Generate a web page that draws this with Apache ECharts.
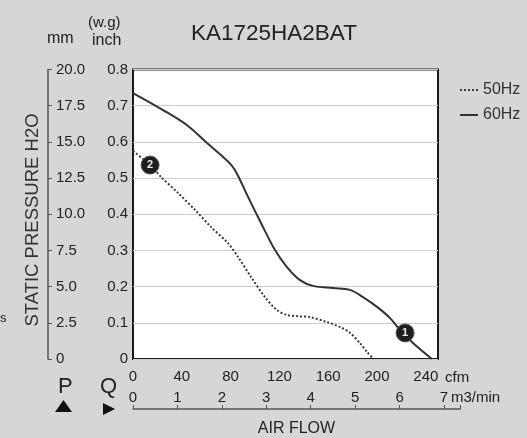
<!DOCTYPE html>
<html>
<head>
<meta charset="utf-8">
<script src="https://cdn.jsdelivr.net/npm/echarts@6/dist/echarts.min.js"></script>
<style>
html,body{margin:0;padding:0;background:#d8d8d8;}
#c{width:527px;height:438px;}
</style>
</head>
<body>
<div id="c"></div>
<script>
// ---- data ----
const titleText = 'KA1725HA2BAT';
const seriesNames = ['50Hz', '60Hz'];

const cfm50  = [0, 14, 23, 36.9, 50.8, 63.9, 77.9, 86.1, 96.7, 108.2, 118, 126, 136, 145, 159, 170, 178, 186, 192, 197];
const inch50 = [0.575, 0.536, 0.503, 0.459, 0.412, 0.365, 0.32, 0.282, 0.227, 0.171, 0.135, 0.122, 0.118, 0.116, 0.102, 0.088, 0.072, 0.044, 0.019, 0];

const cfm60  = [0, 24.6, 44.3, 60.7, 73, 79, 83, 87, 94.3, 104.9, 116.4, 126.2, 136.9, 147.5, 163.9, 177.9, 188.5, 200, 210.7, 218.9, 229.5, 245];
const inch60 = [0.735, 0.688, 0.646, 0.597, 0.561, 0.542, 0.525, 0.5, 0.448, 0.376, 0.301, 0.254, 0.218, 0.202, 0.196, 0.191, 0.171, 0.144, 0.113, 0.08, 0.044, 0];

// operating point markers: [cfm, inch, label]
const marker50 = [14, 0.536, '2'];
const marker60 = [223, 0.072, '1'];

const inchTicks = ['0', '0.1', '0.2', '0.3', '0.4', '0.5', '0.6', '0.7', '0.8'];
const mmTicks   = ['0', '2.5', '5.0', '7.5', '10.0', '12.5', '15.0', '17.5', '20.0'];
const cfmTicks  = ['0', '40', '80', '120', '160', '200', '240'];
const m3Ticks   = ['0', '1', '2', '3', '4', '5', '6', '7'];

// ---- chart ----
const FONT = '"Liberation Sans", Arial, sans-serif';
const TXT = '#222';
const chart = echarts.init(document.getElementById('c'), null, {renderer: 'canvas'});

function pairs(xs, ys) { return xs.map((x, i) => [x, ys[i]]); }
function markPointFor(m) {
  return {
    symbol: 'circle',
    symbolSize: 18,
    itemStyle: {color: '#1e1e1e', borderColor: '#555', borderWidth: 1},
    label: {show: true, formatter: m[2], color: '#eee', fontSize: 11, fontWeight: 'bold', fontFamily: FONT},
    data: [{coord: [m[0], m[1]]}]
  };
}

const option = {
  backgroundColor: '#d6d6d6',
  animation: false,
  textStyle: {fontFamily: FONT},
  title: {
    text: titleText, left: 186, top: 17,
    textStyle: {fontSize: 22.5, fontWeight: 'normal', color: TXT, fontFamily: FONT}
  },
  legend: {
    data: seriesNames, orient: 'vertical', left: 454, top: 77,
    itemWidth: 18, itemHeight: 14, itemGap: 9,
    itemStyle: {opacity: 0},
    textStyle: {fontSize: 16, color: '#333', fontFamily: FONT}
  },
  grid: [
    {left: 133, top: 69.5, right: 89, bottom: 79, show: true, backgroundColor: '#ffffff', borderColor: '#1a1a1a', borderWidth: 2},
    {left: 133, top: 380, width: 327, height: 32, show: false}
  ],
  xAxis: [
    {
      type: 'value', gridIndex: 0, min: 0, max: 250, interval: 40,
      axisLine: {show: false}, axisTick: {show: false}, splitLine: {show: false},
      axisLabel: {
        fontSize: 15, color: TXT, margin: 10, fontFamily: FONT,
        formatter: v => (v % 40 === 0 && v / 40 < cfmTicks.length) ? cfmTicks[v / 40] : ''
      }
    },
    {
      type: 'value', gridIndex: 1, position: 'bottom', min: 0, max: 7.36, interval: 1,
      name: 'AIR FLOW', nameLocation: 'middle', nameGap: 12,
      nameTextStyle: {fontSize: 16, color: TXT, fontFamily: FONT},
      axisLine: {show: true, lineStyle: {color: '#555', width: 1.5}},
      axisTick: {show: true, inside: true, length: 4, lineStyle: {color: '#555'}},
      splitLine: {show: false},
      axisLabel: {
        inside: true, fontSize: 15, color: TXT, margin: 4, fontFamily: FONT,
        formatter: v => (Number.isInteger(v) && v < m3Ticks.length) ? m3Ticks[v] : ''
      }
    }
  ],
  yAxis: [
    {
      type: 'value', gridIndex: 0, min: 0, max: 0.8, interval: 0.1,
      axisLine: {show: false}, axisTick: {show: false},
      splitLine: {show: true, lineStyle: {color: '#cdcdcd', width: 1}},
      axisLabel: {
        fontSize: 15, color: TXT, margin: 5, fontFamily: FONT,
        formatter: v => inchTicks[Math.round(v * 10)]
      }
    },
    {
      type: 'value', gridIndex: 0, position: 'left', offset: 85, min: 0, max: 20, interval: 2.5,
      axisLine: {show: true, lineStyle: {color: '#555', width: 1.5}},
      axisTick: {show: true, inside: true, length: 4, lineStyle: {color: '#555'}},
      splitLine: {show: false},
      axisLabel: {
        inside: true, fontSize: 15, color: TXT, margin: 8, fontFamily: FONT,
        formatter: v => mmTicks[Math.round(v / 2.5)]
      }
    },
    {type: 'value', gridIndex: 1, show: false}
  ],
  series: [
    {
      name: seriesNames[0], type: 'line', xAxisIndex: 0, yAxisIndex: 0,
      data: pairs(cfm50, inch50), smooth: 0.3, symbol: 'none',
      lineStyle: {color: '#3a3a3a', width: 2, type: 'dotted'},
      itemStyle: {color: '#3a3a3a'},
      markPoint: markPointFor(marker50)
    },
    {
      name: seriesNames[1], type: 'line', xAxisIndex: 0, yAxisIndex: 0,
      data: pairs(cfm60, inch60), smooth: 0.35, symbol: 'none',
      lineStyle: {color: '#333', width: 2},
      itemStyle: {color: '#333'},
      markPoint: markPointFor(marker60)
    }
  ],
  graphic: [
    {type: 'text', left: 47, top: 31, style: {text: 'mm', font: '16px ' + FONT, fill: TXT}},
    {type: 'text', left: 88, top: 15, style: {text: '(w.g)', font: '15px ' + FONT, fill: TXT}},
    {type: 'text', left: 92, top: 33, style: {text: 'inch', font: '16px ' + FONT, fill: TXT}},
    {type: 'text', x: 33, y: 220, rotation: Math.PI / 2,
     style: {text: 'STATIC PRESSURE H2O', font: '18.5px ' + FONT, fill: '#333', align: 'center', verticalAlign: 'middle'}},
    {type: 'text', x: 445, y: 378, style: {text: 'cfm', font: '15px ' + FONT, fill: TXT, verticalAlign: 'middle'}},
    {type: 'text', x: 451, y: 398, style: {text: 'm3/min', font: '15px ' + FONT, fill: TXT, verticalAlign: 'middle'}},
    {type: 'text', x: 58, y: 387, style: {text: 'P', font: '22px ' + FONT, fill: TXT, verticalAlign: 'middle'}},
    {type: 'text', x: 100, y: 387, style: {text: 'Q', font: '22px ' + FONT, fill: TXT, verticalAlign: 'middle'}},
    {type: 'polygon', shape: {points: [[55, 412], [72, 412], [63.5, 400]]}, style: {fill: '#111'}},
    {type: 'polygon', shape: {points: [[103, 403], [103, 415], [115, 409]]}, style: {fill: '#111'}},
    {type: 'text', x: 0, y: 318, style: {text: 's', font: '13px ' + FONT, fill: TXT, verticalAlign: 'middle'}}
  ]
};
chart.setOption(option);
</script>
</body>
</html>
